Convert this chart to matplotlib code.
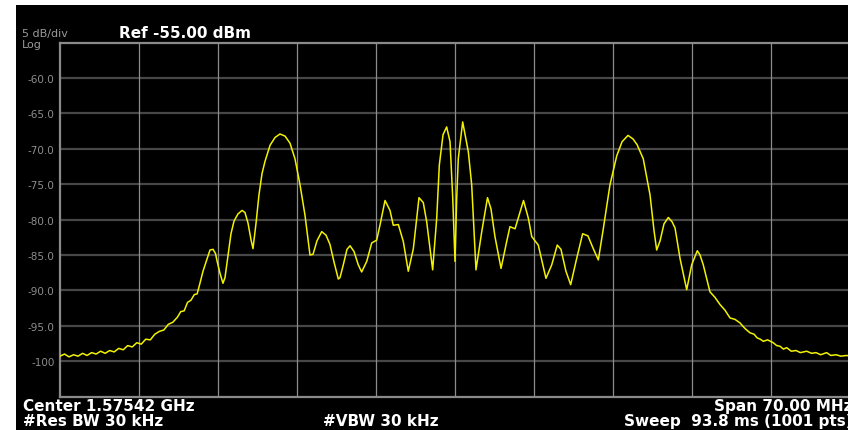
import numpy as np
import matplotlib.pyplot as plt
from matplotlib.patches import Rectangle

# Trace: offset from centre (MHz) and level (dBm)
freq_mhz = [
    -35.0, -34.6, -34.2, -33.8, -33.4, -33.0, -32.6, -32.2, -31.8, -31.4,
    -31.0, -30.6, -30.2, -29.8, -29.4, -29.0, -28.6, -28.2, -27.8, -27.4,
    -27.0, -26.6, -26.2, -25.8, -25.4, -25.0, -24.6, -24.3, -24.0, -23.7,
    -23.4, -23.1, -22.85, -22.6, -22.33, -21.98, -21.71, -21.44, -21.22, -21.09,
    -20.82, -20.56, -20.38, -20.11, -19.85, -19.58, -19.23, -18.87, -18.61, -18.34,
    -18.08, -17.90, -17.63, -17.37, -17.10, -16.84, -16.39, -15.95, -15.51, -15.06,
    -14.62, -14.18, -13.73, -13.29, -12.85, -12.58, -12.23, -11.81, -11.43, -11.08,
    -10.72, -10.34, -10.19, -9.90, -9.57, -9.30, -8.95, -8.57, -8.27, -7.82,
    -7.38, -6.94, -6.65, -6.20, -5.76, -5.47, -5.02, -4.58, -4.14, -3.69,
    -3.19, -2.81, -2.51, -1.98, -1.62, -1.39, -1.06, -0.74, -0.44, -0.20,
    0.0, 0.15, 0.29, 0.68, 1.18, 1.48, 1.86, 2.37, 2.88, 3.19,
    3.54, 4.08, 4.58, 4.87, 5.32, 6.07, 6.50, 6.80, 7.38, 8.06,
    8.57, 9.06, 9.39, 9.83, 10.25, 10.78, 11.31, 11.78, 12.25, 12.70,
    13.14, 13.73, 14.33, 14.80, 15.33, 15.77, 16.13, 16.68, 17.28, 17.63,
    17.87, 18.17, 18.52, 18.90, 19.23, 19.50, 19.94, 20.53, 20.97, 21.47,
    21.71, 22.00, 22.59, 23.04, 23.48, 23.92, 24.37, 24.81, 25.25, 25.70,
    26.14, 26.50, 26.76, 27.05, 27.32, 27.70, 28.20, 28.50, 28.80, 29.10,
    29.39, 29.80, 30.22, 30.60, 31.16, 31.60, 31.99, 32.40, 32.93, 33.30,
    33.76, 34.20, 34.71, 35.0,
]
level_dbm = [
    -99.3, -99.0, -99.4, -99.1, -99.3, -98.9, -99.2, -98.8, -99.0, -98.6,
    -98.9, -98.5, -98.7, -98.2, -98.4, -97.8, -98.0, -97.4, -97.6, -96.9,
    -97.0, -96.2, -95.8, -95.6, -94.8, -94.5, -93.8, -93.0, -92.9, -91.7,
    -91.4, -90.6, -90.5, -89.0, -87.3, -85.6, -84.3, -84.2, -84.8, -85.8,
    -87.6, -89.0, -88.2, -85.0, -82.0, -80.2, -79.2, -78.7, -79.0, -80.5,
    -82.8, -84.1, -80.5, -76.5, -73.5, -71.8, -69.5, -68.4, -67.9, -68.2,
    -69.2, -71.4, -75.1, -79.4, -85.0, -84.9, -83.0, -81.7, -82.2, -83.5,
    -86.0, -88.4, -88.2, -86.4, -84.2, -83.7, -84.5, -86.4, -87.4, -85.9,
    -83.3, -82.9, -80.8, -77.3, -78.7, -80.8, -80.7, -83.1, -87.3, -84.1,
    -76.9, -77.6, -80.3, -87.1, -79.8, -72.3, -68.0, -66.9, -69.0, -77.0,
    -85.9, -77.0, -71.4, -66.2, -70.4, -75.1, -87.1, -81.7, -76.9, -78.5,
    -82.4, -86.9, -83.1, -81.0, -81.3, -77.3, -79.8, -82.4, -83.6, -88.3,
    -86.4, -83.6, -84.2, -87.3, -89.2, -85.5, -82.0, -82.3, -84.1, -85.7,
    -81.3, -75.1, -71.0, -69.0, -68.1, -68.6, -69.4, -71.4, -76.5, -81.5,
    -84.3, -83.0, -80.6, -79.7, -80.3, -81.2, -85.5, -89.9, -86.4, -84.4,
    -85.0, -86.4, -90.2, -91.0, -92.0, -92.8, -93.9, -94.1, -94.6, -95.4,
    -96.0, -96.2, -96.7, -96.9, -97.2, -97.0, -97.4, -97.8, -97.9, -98.3,
    -98.1, -98.6, -98.5, -98.8, -98.6, -98.9, -98.8, -99.1, -98.8, -99.2,
    -99.1, -99.3, -99.2, -99.3,
]

y_ticks = [-60, -65, -70, -75, -80, -85, -90, -95, -100]
y_tick_labels = ['-60.0', '-65.0', '-70.0', '-75.0', '-80.0', '-85.0', '-90.0', '-95.0', '-100']
x_grid = [-35 + 7 * i for i in range(1, 10)]

W, H = 856, 431
fig = plt.figure(figsize=(W / 100, H / 100), dpi=100, facecolor='white')

# black instrument screen
fig.patches.append(Rectangle((16 / W, 0), (848 - 16) / W, (H - 6) / H,
                             transform=fig.transFigure, facecolor='black',
                             edgecolor='none', zorder=-5))

left, right, top, bottom = 60, 848, 43.7, 397.5
ax = fig.add_axes([left / W, 1 - bottom / H, (right - left) / W, (bottom - top) / H])
ax.set_facecolor('black')
ax.set_xlim(-35, -35 + 70 * (right - left) / 790)
ax.set_ylim(-105, -55)

for v in y_ticks:
    ax.axhline(v, color='#474747', lw=1.6, zorder=1)
for v in x_grid:
    ax.axvline(v, color='#8c8c8c', lw=0.9, zorder=1)

ax.plot(freq_mhz, level_dbm, color='#f2f200', lw=1.1, zorder=3)

for s in ['left', 'top', 'bottom']:
    ax.spines[s].set_color('#8a8a8a')
    ax.spines[s].set_linewidth(1.6)
ax.spines['right'].set_visible(False)

ax.set_xticks([])
ax.set_yticks(y_ticks)
ax.set_yticklabels(y_tick_labels, color='#8e8e8e', fontsize=7.5, family='DejaVu Sans')
ax.tick_params(axis='y', length=0, pad=4)

bold = dict(family='DejaVu Sans', fontweight='bold', color='white')
fig.text(22 / W, 1 - 37 / H, '5 dB/div', color='#9a9a9a', fontsize=8,
         family='DejaVu Sans', va='baseline', ha='left')
fig.text(22 / W, 1 - 47.5 / H, 'Log', color='#9a9a9a', fontsize=8,
         family='DejaVu Sans', va='baseline', ha='left')
fig.text(119 / W, 1 - 33 / H, 'Ref -55.00 dBm', fontsize=11, va='center', ha='left', **bold)

fig.text(23 / W, 1 - 407 / H, 'Center 1.57542 GHz', fontsize=11, va='center', ha='left', **bold)
fig.text(23 / W, 1 - 422 / H, '#Res BW 30 kHz', fontsize=11, va='center', ha='left', **bold)
fig.text(323 / W, 1 - 422 / H, '#VBW 30 kHz', fontsize=11, va='center', ha='left', **bold)
fig.text(853 / W, 1 - 407 / H, 'Span 70.00 MHz', fontsize=11, va='center', ha='right', **bold)
fig.text(853 / W, 1 - 422 / H, 'Sweep  93.8 ms (1001 pts)', fontsize=11, va='center', ha='right', **bold)

# white margins drawn over everything
fig.patches.append(Rectangle((848 / W, 0), 8 / W, 1, transform=fig.transFigure,
                             facecolor='white', edgecolor='none', zorder=20))
fig.patches.append(Rectangle((0, 1 - 6 / H), 1, 6 / H, transform=fig.transFigure,
                             facecolor='white', edgecolor='none', zorder=20))

fig.savefig('out.png', dpi=100, facecolor='white')
